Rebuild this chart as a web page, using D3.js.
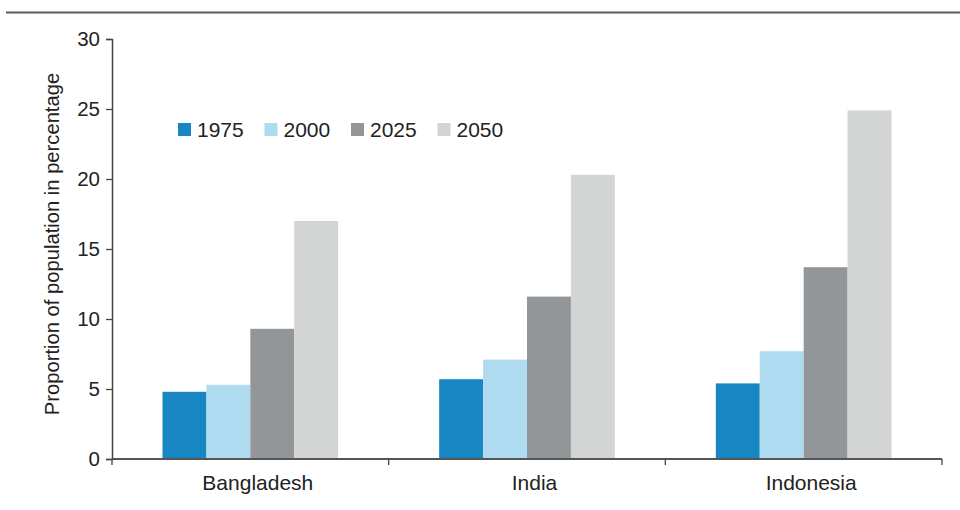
<!DOCTYPE html>
<html>
<head>
<meta charset="utf-8">
<script src="https://cdn.jsdelivr.net/npm/d3@7/dist/d3.min.js"></script>
<style>
  html, body { margin: 0; padding: 0; background: #fff; }
  svg { display: block; font-family: "Liberation Sans", Arial, Helvetica, sans-serif; }
</style>
</head>
<body>
<svg id="chart" width="960" height="510"></svg>
<script>
// Share of population by country and year (percent)
const countries = ["Bangladesh", "India", "Indonesia"];
const years = ["1975", "2000", "2025", "2050"];
const values1975 = [4.8, 5.7, 5.4];
const values2000 = [5.3, 7.1, 7.7];
const values2025 = [9.3, 11.6, 13.7];
const values2050 = [17.0, 20.3, 24.9];
const yTicks = [0, 5, 10, 15, 20, 25, 30];
const yTitle = "Proportion of population in percentage";

const seriesValues = [values1975, values2000, values2025, values2050];
const colors = ["#1886c2", "#aedbf0", "#939699", "#d3d4d4"];

const svg = d3.select("#chart");
const x0 = 112, x1 = 942, yZero = 459, yTop = 39;

// header rule across the top
svg.append("line")
  .attr("x1", 6).attr("x2", 960)
  .attr("y1", 12.5).attr("y2", 12.5)
  .attr("stroke", "#5a5a5a").attr("stroke-width", 2);

const x = d3.scaleBand().domain(countries).range([x0, x1]).paddingInner(0).paddingOuter(0);
const inner = d3.scaleBand().domain(years).range([50.5, x.bandwidth() - 50.5]).padding(0);
const y = d3.scaleLinear().domain([0, 30]).range([yZero, yTop]);

// bars
const rows = [];
countries.forEach((c, ci) => {
  years.forEach((yr, si) => rows.push({ country: c, year: yr, value: seriesValues[si][ci], color: colors[si] }));
});
svg.append("g").selectAll("rect").data(rows).join("rect")
  .attr("x", d => x(d.country) + inner(d.year))
  .attr("y", d => y(d.value))
  .attr("width", inner.bandwidth())
  .attr("height", d => yZero - y(d.value))
  .attr("fill", d => d.color);

// y axis
const yAxis = svg.append("g")
  .attr("transform", `translate(${x0},0)`)
  .call(d3.axisLeft(y).tickValues(yTicks).tickSize(6).tickPadding(6));
yAxis.select(".domain").attr("stroke", "#444").attr("stroke-width", 1.5);
yAxis.selectAll(".tick line").attr("stroke", "#444").attr("stroke-width", 1.3);
yAxis.selectAll(".tick text").attr("font-size", 20.5).attr("fill", "#222")
  .attr("font-family", "Liberation Sans, Arial, sans-serif");

// x axis: ticks between categories, labels nudged slightly right of centre
const xAxisG = svg.append("g").attr("transform", `translate(0,${yZero})`);
xAxisG.append("line").attr("x1", x0).attr("x2", x1).attr("y1", 0).attr("y2", 0)
  .attr("stroke", "#555").attr("stroke-width", 2);
const boundaries = countries.map(c => x(c)).concat([x1]);
xAxisG.selectAll("line.tk").data(boundaries).join("line")
  .attr("class", "tk")
  .attr("x1", d => d).attr("x2", d => d).attr("y1", 0).attr("y2", 6)
  .attr("stroke", "#444").attr("stroke-width", 1.3);
xAxisG.selectAll("text").data(countries).join("text")
  .attr("x", d => x(d) + x.bandwidth() / 2 + 7.5)
  .attr("y", 31)
  .attr("text-anchor", "middle")
  .attr("font-size", 21).attr("fill", "#222")
  .text(d => d);

// y title
svg.append("text")
  .attr("transform", `translate(59,244) rotate(-90)`)
  .attr("text-anchor", "middle")
  .attr("font-size", 20.2).attr("fill", "#222")
  .text(yTitle);

// legend
const legend = svg.append("g").attr("transform", "translate(178,123)");
const lg = legend.selectAll("g").data(years).join("g")
  .attr("transform", (d, i) => `translate(${i * 86.5},0)`);
lg.append("rect").attr("width", 13).attr("height", 13).attr("fill", (d, i) => colors[i]);
lg.append("text").attr("x", 19).attr("y", 13.5).attr("font-size", 21).attr("fill", "#222").text(d => d);
</script>
</body>
</html>
